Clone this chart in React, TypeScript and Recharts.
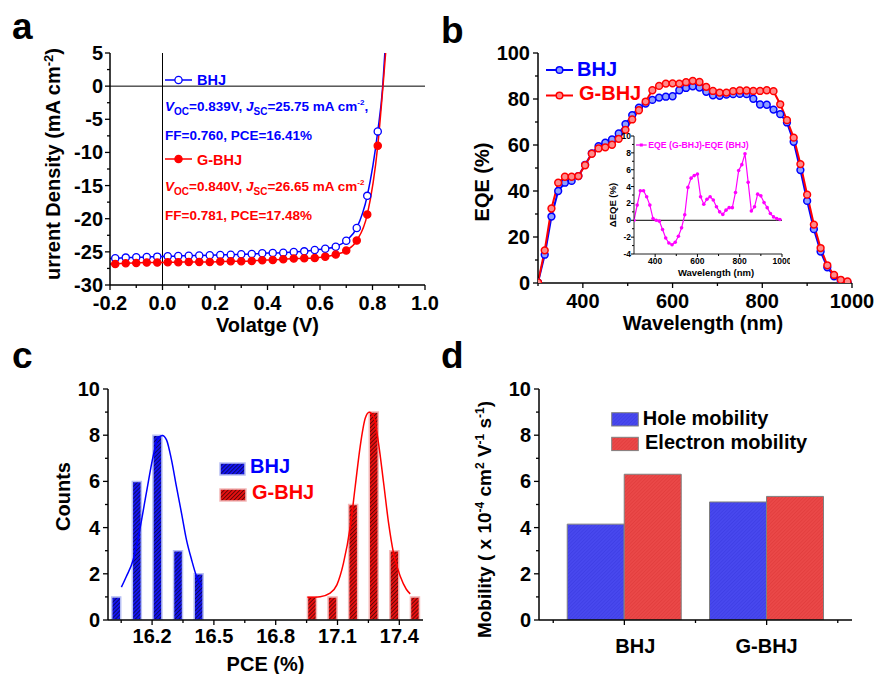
import React from 'react';
import {
  LineChart, Line, XAxis, YAxis, ReferenceLine, Legend, Label,
  ComposedChart, Bar, BarChart, Cell,
} from 'recharts';

const FONT = '"Liberation Sans", Arial, sans-serif';
const BLUE = '#0000ff';
const RED = '#ff0000';
const MAGENTA = '#ff00ff';

// ---- a: J-V curves ----
const jvVolts = [-0.18, -0.14, -0.1, -0.06, -0.02, 0.02, 0.06, 0.1, 0.14, 0.18, 0.22, 0.26, 0.3,
  0.34, 0.38, 0.42, 0.46, 0.5, 0.54, 0.58, 0.62, 0.66, 0.7, 0.74, 0.78, 0.82];
const jvBhj = [-25.97, -25.87, -25.82, -25.77, -25.72, -25.67, -25.62, -25.57, -25.55, -25.52, -25.47,
  -25.42, -25.37, -25.32, -25.22, -25.17, -25.12, -25.02, -24.92, -24.72, -24.52, -24.22, -23.33,
  -21.39, -16.55, -6.83];
const jvGbhj = [-26.82, -26.72, -26.67, -26.62, -26.62, -26.57, -26.57, -26.52, -26.52, -26.52, -26.47,
  -26.42, -26.42, -26.37, -26.27, -26.22, -26.12, -26.02, -25.97, -25.92, -25.72, -25.41, -24.81,
  -23.3, -19.38, -9.0];
// curve ends without markers
const bhjEndV = [-0.2, 0.839, 0.847];
const bhjEndJ = [-26.0, 0, 5];
const gbhjEndV = [-0.2, 0.84, 0.85];
const gbhjEndJ = [-26.85, 0, 5];
const jvXTicks = [-0.2, -0.1, 0, 0.1, 0.2, 0.3, 0.4, 0.5, 0.6, 0.7, 0.8, 0.9, 1.0];
const jvXMajor = [-0.2, 0, 0.2, 0.4, 0.6, 0.8, 1.0];
const jvYTicks = [-30, -27.5, -25, -22.5, -20, -17.5, -15, -12.5, -10, -7.5, -5, -2.5, 0, 2.5, 5];
const jvYMajor = [-30, -25, -20, -15, -10, -5, 0, 5];
const seriesNames = ['BHJ', 'G-BHJ'];
const vocVals = ['0.839', '0.840'];
const jscVals = ['25.75', '26.65'];
const ffVals = ['0.760', '0.781'];
const pceVals = ['16.41', '17.48'];

// ---- b: EQE ----
const wavelengths = [300, 315, 330, 345, 360, 375, 390, 405, 420, 435, 450, 465, 480, 495, 510, 525,
  540, 555, 570, 585, 600, 615, 630, 645, 660, 675, 690, 705, 720, 735, 750, 765, 780, 795, 810, 825,
  840, 855, 870, 885, 900, 915, 930, 945, 960, 975, 990];
const eqeBhj = [0.3, 12.3, 28.9, 40.0, 43.6, 44.4, 46.5, 51.4, 56.4, 59.5, 61.0, 62.4, 65.0, 69.1, 73.0,
  76.2, 78.0, 79.6, 80.6, 81.0, 81.2, 83.8, 84.8, 85.5, 85.0, 83.1, 81.6, 81.4, 81.9, 82.1, 82.2, 82.1,
  80.1, 77.6, 77.5, 75.4, 73.4, 69.8, 61.4, 49.1, 35.7, 23.4, 13.7, 6.8, 2.9, 1.0, 0.3];
const eqeGbhj = [0.3, 14.2, 32.4, 43.6, 46.2, 46.2, 46.5, 51.2, 56.2, 58.5, 59.0, 60.1, 62.7, 66.6, 71.1,
  75.1, 78.9, 83.8, 85.7, 86.7, 86.8, 86.7, 87.3, 87.9, 87.4, 85.3, 83.5, 82.8, 82.8, 83.4, 83.7, 83.7,
  83.5, 83.5, 83.8, 83.4, 77.7, 70.8, 63.2, 51.7, 38.4, 25.4, 15.2, 7.7, 3.5, 1.4, 0.7];
const deltaEqe = [0, 1.8, 3.5, 3.5, 2.8, 1.8, 0.2, 0, -0.1, -1.1, -2.1, -2.7, -2.9, -2.6, -1.9, -0.9,
  0.65, 3.9, 5.0, 5.3, 5.5, 2.8, 1.9, 2.5, 2.8, 2.4, 1.6, 1.0, 0.7, 1.2, 1.5, 1.5, 3.3, 5.9, 6.6, 7.9,
  4.5, 1.1, 1.6, 3.1, 2.9, 2.1, 1.5, 0.8, 0.4, 0.2, 0.1];
const wlTicks = [300, 400, 500, 600, 700, 800, 900, 1000];
const wlMajor = [400, 600, 800, 1000];
const eqeTicks = [0, 10, 20, 30, 40, 50, 60, 70, 80, 90, 100];
const eqeMajor = [0, 20, 40, 60, 80, 100];
const insetXTicks = [400, 500, 600, 700, 800, 900, 1000];
const insetYTicks = [-4, -3, -2, -1, 0, 1, 2, 3, 4, 5, 6, 7, 8, 9, 10];
const insetYMajor = [-4, -2, 0, 2, 4, 6, 8, 10];

// ---- c: PCE histogram ----
const bhjBins = [16.025, 16.125, 16.225, 16.325, 16.425];
const bhjCounts = [1, 6, 8, 3, 2];
const gbhjBins = [16.975, 17.075, 17.175, 17.275, 17.375, 17.475];
const gbhjCounts = [1, 1, 5, 9, 3, 1];
const bhjFitX = [16.051, 16.075, 16.108, 16.14, 16.172, 16.205, 16.229, 16.25, 16.27, 16.294, 16.318,
  16.343, 16.367, 16.392, 16.416, 16.44];
const bhjFitY = [1.42, 1.88, 2.6, 3.9, 5.49, 7.08, 7.87, 7.99, 7.8, 6.94, 5.78, 4.62, 3.47, 2.6, 1.88, 1.44];
const gbhjFitX = [16.954, 17.016, 17.064, 17.097, 17.129, 17.162, 17.186, 17.21, 17.235, 17.254, 17.275,
  17.299, 17.324, 17.348, 17.372, 17.405, 17.434, 17.453];
const gbhjFitY = [0.98, 1.01, 1.16, 1.52, 2.46, 4.04, 5.78, 7.51, 8.74, 8.99, 8.81, 7.66, 5.92, 4.19,
  2.89, 1.88, 1.33, 1.13];
const pceTicks = [16.05, 16.2, 16.35, 16.5, 16.65, 16.8, 16.95, 17.1, 17.25, 17.4];
const pceMajor = [16.2, 16.5, 16.8, 17.1, 17.4];
const countTicks = [0, 1, 2, 3, 4, 5, 6, 7, 8, 9, 10];
const countMajor = [0, 2, 4, 6, 8, 10];

// ---- d: mobility ----
const mobCats = ['BHJ', 'G-BHJ'];
const holeMob = [4.15, 5.11];
const elecMob = [6.31, 5.35];
const mobNames = ['Hole mobility', 'Electron mobility'];
const mobXTicks = [0.5, 1, 1.5, 2, 2.5];
const mobXMajor = [1, 2];

const bhjLine = [
  { v: bhjEndV[0], j: bhjEndJ[0] },
  ...jvVolts.map((v, i) => ({ v, j: jvBhj[i], m: true })),
  ...bhjEndV.slice(1).map((v, i) => ({ v, j: bhjEndJ[i + 1] })),
];
const gbhjLine = [
  { v: gbhjEndV[0], j: gbhjEndJ[0] },
  ...jvVolts.map((v, i) => ({ v, j: jvGbhj[i], m: true })),
  ...gbhjEndV.slice(1).map((v, i) => ({ v, j: gbhjEndJ[i + 1] })),
];
const eqeData = wavelengths.map((w, i) => ({ w, bhj: eqeBhj[i], gbhj: eqeGbhj[i] }));
const insetData = wavelengths.map((w, i) => ({ w, d: deltaEqe[i] }));
const pceData = [
  ...bhjBins.map((x, i) => ({ x, n: bhjCounts[i], g: 0 })),
  ...gbhjBins.map((x, i) => ({ x, n: gbhjCounts[i], g: 1 })),
];
const bhjFit = bhjFitX.map((x, i) => ({ x, n: bhjFitY[i] }));
const gbhjFit = gbhjFitX.map((x, i) => ({ x, n: gbhjFitY[i] }));
const mobData = mobCats.map((c, i) => ({ x: i + 1, hole: holeMob[i], elec: elecMob[i] }));

type Side = 'left' | 'right' | 'top' | 'bottom';
const near = (list: number[], v: number) => list.some((m) => Math.abs(m - v) < 1e-6);

function tickMaker(side: Side, major: number[], o: {
  label?: (v: number) => string; gap?: number; size?: number; len?: number; minor?: number;
  sw?: number; shift?: (v: number) => number;
} = {}) {
  const { label, gap = 8, size = 20, len = 5, minor = 3, sw = 1.3, shift } = o;
  return (props: any) => {
    const { x, y, payload } = props;
    const v = payload.value;
    const big = near(major, v);
    const l = big ? len : minor;
    let line: React.ReactNode;
    let text: React.ReactNode = null;
    if (side === 'left') {
      line = <line x1={x - l} y1={y} x2={x} y2={y} />;
      if (label && big) {
        text = <text x={x - gap} y={y} dy="0.35em" textAnchor="end">{label(v)}</text>;
      }
    } else if (side === 'bottom') {
      line = <line x1={x} y1={y} x2={x} y2={y + l} />;
      if (label && big) {
        text = <text x={x + (shift ? shift(v) : 0)} y={y + gap} textAnchor="middle">{label(v)}</text>;
      }
    } else if (side === 'top') {
      line = <line x1={x} y1={y} x2={x} y2={y + l} />;
    } else {
      line = <line x1={x - l} y1={y} x2={x} y2={y} />;
    }
    return (
      <g>
        <g stroke="#000" strokeWidth={sw}>{line}</g>
        {text && <g fill="#000" fontSize={size} fontWeight="bold" fontFamily={FONT}>{text}</g>}
      </g>
    );
  };
}

const hTitle = (body: React.ReactNode, dx: number, dy: number, size = 20) => (p: any) => {
  const vb = p.viewBox || {};
  return (
    <text x={vb.x + vb.width / 2 + dx} y={vb.y + dy} textAnchor="middle" fontSize={size}
      fontWeight="bold" fontFamily={FONT} fill="#000">{body}</text>
  );
};

const vTitle = (body: React.ReactNode, dx: number, dy: number, size = 20) => (p: any) => {
  const vb = p.viewBox || {};
  const cx = vb.x + dx;
  const cy = vb.y + vb.height / 2 + dy;
  return (
    <text x={cx} y={cy} dy="0.35em" transform={`rotate(-90 ${cx} ${cy})`} textAnchor="middle"
      fontSize={size} fontWeight="bold" fontFamily={FONT} fill="#000">{body}</text>
  );
};

const frame = { stroke: '#000', strokeWidth: 1.5 };

const jvDot = (stroke: string, fill: string) => (p: any) =>
  p.payload && p.payload.m
    ? <circle key={`d${p.index}`} cx={p.cx} cy={p.cy} r={3.6} stroke={stroke} strokeWidth={1.3} fill={fill} />
    : <g key={`d${p.index}`} />;

const Stats = ({ i, y, color }: { i: number; y: number; color: string }) => (
  <g fill={color} fontSize={13.5} fontWeight="bold" fontFamily={FONT}>
    <text x={5} y={y}>
      <tspan fontStyle="italic">V</tspan>
      <tspan fontSize={10} dy={4}>OC</tspan>
      <tspan dy={-4}>{`=${vocVals[i]}V, `}</tspan>
      <tspan fontStyle="italic">J</tspan>
      <tspan fontSize={10} dy={4}>SC</tspan>
      <tspan dy={-4}>{`=${jscVals[i]} mA cm`}</tspan>
      <tspan fontSize={8} dy={-6}>-2</tspan>
      <tspan dy={6}>{i === 0 ? ',' : ''}</tspan>
    </text>
    <text x={5} y={y + 29}>{`FF=${ffVals[i]}, PCE=${pceVals[i]}%`}</text>
  </g>
);

const JvLegend = () => (
  <svg width={230} height={160}>
    <line x1={5} y1={14} x2={32} y2={14} stroke={BLUE} strokeWidth={1.5} />
    <circle cx={18.5} cy={14} r={3.6} stroke={BLUE} strokeWidth={1.3} fill="#fff" />
    <text x={37} y={19} fill={BLUE} fontSize={14.5} fontWeight="bold" fontFamily={FONT}>{seriesNames[0]}</text>
    <Stats i={0} y={45} color={BLUE} />
    <line x1={5} y1={93} x2={32} y2={93} stroke={RED} strokeWidth={1.5} />
    <circle cx={18.5} cy={93} r={3.6} stroke={RED} strokeWidth={1.3} fill={RED} />
    <text x={37} y={99} fill={RED} fontSize={14.5} fontWeight="bold" fontFamily={FONT}>{seriesNames[1]}</text>
    <Stats i={1} y={125} color={RED} />
  </svg>
);

const EqeLegend = () => (
  <svg width={140} height={55}>
    <line x1={6} y1={15} x2={33} y2={15} stroke={BLUE} strokeWidth={2} />
    <circle cx={19.5} cy={15} r={3.3} stroke={BLUE} strokeWidth={1.5} fill="#8fa0ff" />
    <text x={37} y={21} fill={BLUE} fontSize={20} fontWeight="bold" fontFamily={FONT}>{seriesNames[0]}</text>
    <line x1={6} y1={40.5} x2={33} y2={40.5} stroke={RED} strokeWidth={2} />
    <circle cx={19.5} cy={40.5} r={3.3} stroke={RED} strokeWidth={1.5} fill="#ff8a8a" />
    <text x={39} y={45} fill={RED} fontSize={20} fontWeight="bold" fontFamily={FONT}>{seriesNames[1]}</text>
  </svg>
);

const InsetLegend = () => (
  <svg width={140} height={14}>
    <line x1={2} y1={7} x2={12.7} y2={7} stroke={MAGENTA} strokeWidth={1.2} />
    <rect x={5.8} y={5.5} width={3} height={3} fill={MAGENTA} />
    <text x={14.3} y={10} fill={MAGENTA} fontSize={8.7} fontWeight="bold" fontFamily={FONT}>
      EQE (G-BHJ)-EQE (BHJ)
    </text>
  </svg>
);

const PceLegend = () => (
  <svg width={130} height={50}>
    <rect x={5} y={8} width={25} height={12} fill="url(#hatchBlue)" stroke="#b8c0f4" strokeWidth={1.5} />
    <text x={35} y={18} fill={BLUE} fontSize={20} fontWeight="bold" fontFamily={FONT}>{seriesNames[0]}</text>
    <rect x={5} y={34} width={26} height={12} fill="url(#hatchRed)" stroke="#f4b8b8" strokeWidth={1.5} />
    <text x={37} y={44} fill={RED} fontSize={20} fontWeight="bold" fontFamily={FONT}>{seriesNames[1]}</text>
  </svg>
);

const MobLegend = () => (
  <svg width={215} height={50}>
    <rect x={6.7} y={7.7} width={26.6} height={13.3} fill="url(#dBlue)" stroke="#808080" strokeWidth={1} />
    <text x={37.7} y={20} fill="#000" fontSize={20} fontWeight="bold" fontFamily={FONT}>{mobNames[0]}</text>
    <rect x={6.7} y={32.3} width={26.6} height={13.3} fill="url(#dRed)" stroke="#808080" strokeWidth={1} />
    <text x={40} y={44} fill="#000" fontSize={20} fontWeight="bold" fontFamily={FONT}>{mobNames[1]}</text>
  </svg>
);

const legendAt = (left: number, top: number, w: number, h: number) => ({
  left, top, width: w, height: h, margin: 0, padding: 0,
});

const Letter = ({ x, y, c }: { x: number; y: number; c: string }) => (
  <text x={x} y={y} fontSize={37} fontWeight="bold" fontFamily={FONT} fill="#000">{c}</text>
);

const box = (left: number, top: number): React.CSSProperties => ({ position: 'absolute', left, top });

export default function App() {
  return (
    <div style={{ position: 'absolute', left: 0, top: 0, width: 875, height: 674, background: '#fff', overflow: 'hidden' }}>
      <svg width={875} height={674} style={{ position: 'absolute', left: 0, top: 0 }}>
        <defs>
          <pattern id="hatchBlue" width="2.8" height="2.8" patternUnits="userSpaceOnUse" patternTransform="rotate(45)">
            <rect width="2.8" height="2.8" fill="#1414ee" />
            <line x1="0" y1="0" x2="0" y2="2.8" stroke="#000" strokeWidth="1.1" />
          </pattern>
          <pattern id="hatchRed" width="2.8" height="2.8" patternUnits="userSpaceOnUse" patternTransform="rotate(45)">
            <rect width="2.8" height="2.8" fill="#e81010" />
            <line x1="0" y1="0" x2="0" y2="2.8" stroke="#000" strokeWidth="1.1" />
          </pattern>
          <pattern id="dBlue" width="2.5" height="2.5" patternUnits="userSpaceOnUse" patternTransform="rotate(45)">
            <rect width="2.5" height="2.5" fill="#4848ee" />
            <line x1="0" y1="0" x2="0" y2="2.5" stroke="#2e2ed6" strokeWidth="0.6" />
          </pattern>
          <pattern id="dRed" width="2.5" height="2.5" patternUnits="userSpaceOnUse" patternTransform="rotate(45)">
            <rect width="2.5" height="2.5" fill="#ea4848" />
            <line x1="0" y1="0" x2="0" y2="2.5" stroke="#d22c2c" strokeWidth="0.6" />
          </pattern>
        </defs>
        <Letter x={12} y={39} c="a" />
        <Letter x={441} y={43} c="b" />
        <Letter x={12} y={368} c="c" />
        <Letter x={441} y={368} c="d" />
      </svg>

      {/* a */}
      <div style={box(0, 0)}>
        <LineChart width={440} height={345} margin={{ top: 53, right: 15, bottom: 5, left: 50 }}>
          <XAxis type="number" dataKey="v" domain={[-0.2, 1.0]} ticks={jvXTicks} interval={0} allowDataOverflow
            height={55} tickSize={0} tickMargin={0} tickLine={false} axisLine={frame}
            tick={tickMaker('bottom', jvXMajor, { label: (v) => v.toFixed(1), gap: 25 })}>
            <Label content={hTitle('Volatge (V)', 0, 47)} />
          </XAxis>
          <XAxis xAxisId="top" orientation="top" type="number" domain={[-0.2, 1.0]} ticks={jvXTicks} interval={0}
            allowDataOverflow height={0} tickSize={0} tickLine={false} axisLine={frame}
            tick={tickMaker('top', jvXMajor)} />
          <YAxis type="number" domain={[-30, 5]} ticks={jvYTicks} interval={0} allowDataOverflow width={60}
            tickSize={0} tickMargin={0} tickLine={false} axisLine={frame}
            tick={tickMaker('left', jvYMajor, { label: (v) => String(v), gap: 7 })}>
            <Label content={vTitle(<>urrent Density (mA cm<tspan fontSize={13} dy={-7}>-2</tspan><tspan dy={7}>)</tspan></>, 3, -5)} />
          </YAxis>
          <YAxis yAxisId="right" orientation="right" type="number" domain={[-30, 5]} ticks={jvYTicks} interval={0}
            allowDataOverflow width={0} tickSize={0} tickLine={false} axisLine={frame}
            tick={tickMaker('right', jvYMajor)} />
          <ReferenceLine x={0} stroke="#000" strokeWidth={1} />
          <ReferenceLine y={0} stroke="#000" strokeWidth={1} />
          <Line data={bhjLine} dataKey="j" type="monotone" stroke={BLUE} strokeWidth={1.5}
            dot={jvDot(BLUE, '#fff')} isAnimationActive={false} />
          <Line data={gbhjLine} dataKey="j" type="monotone" stroke={RED} strokeWidth={1.5}
            dot={jvDot(RED, RED)} isAnimationActive={false} />
          <Legend verticalAlign="middle" align="center" layout="horizontal" content={() => <JvLegend />}
            wrapperStyle={legendAt(160, 66, 230, 160)} />
        </LineChart>
      </div>

      {/* b */}
      <div style={box(440, 0)}>
        <LineChart width={435} height={345} data={eqeData} margin={{ top: 53, right: 23, bottom: 7, left: 38 }}>
          <XAxis type="number" dataKey="w" domain={[300, 1000]} ticks={wlTicks} interval={0} allowDataOverflow
            height={55} tickSize={0} tickMargin={0} tickLine={false} axisLine={frame}
            tick={tickMaker('bottom', wlMajor, { label: (v) => String(v), gap: 25 })}>
            <Label content={hTitle('Wavelength (nm)', 8, 47)} />
          </XAxis>
          <XAxis xAxisId="top" orientation="top" type="number" domain={[300, 1000]} ticks={wlTicks} interval={0}
            allowDataOverflow height={0} tickSize={0} tickLine={false} axisLine={frame}
            tick={tickMaker('top', wlMajor)} />
          <YAxis type="number" domain={[0, 100]} ticks={eqeTicks} interval={0} allowDataOverflow width={60}
            tickSize={0} tickMargin={0} tickLine={false} axisLine={frame}
            tick={tickMaker('left', eqeMajor, { label: (v) => String(v), gap: 8 })}>
            <Label content={vTitle('EQE (%)', 4, 14)} />
          </YAxis>
          <YAxis yAxisId="right" orientation="right" type="number" domain={[0, 100]} ticks={eqeTicks} interval={0}
            allowDataOverflow width={0} tickSize={0} tickLine={false} axisLine={frame}
            tick={tickMaker('right', eqeMajor)} />
          <Line dataKey="bhj" type="linear" stroke={BLUE} strokeWidth={2}
            dot={{ r: 3.4, stroke: BLUE, strokeWidth: 1.5, fill: '#8fa0ff' }} isAnimationActive={false} />
          <Line dataKey="gbhj" type="linear" stroke={RED} strokeWidth={2}
            dot={{ r: 3.4, stroke: RED, strokeWidth: 1.5, fill: '#ff8a8a' }} isAnimationActive={false} />
          <Legend verticalAlign="middle" align="center" layout="horizontal" content={() => <EqeLegend />}
            wrapperStyle={legendAt(100, 55, 140, 55)} />
        </LineChart>
      </div>

      {/* b inset */}
      <div style={box(590, 125)}>
        <LineChart width={200} height={160} data={insetData} margin={{ top: 11, right: 8, bottom: 1, left: 20 }}>
          <XAxis type="number" dataKey="w" domain={[300, 1000]} ticks={insetXTicks} interval={0} allowDataOverflow
            height={30} tickSize={0} tickMargin={0} tickLine={false} axisLine={{ stroke: '#222', strokeWidth: 1 }}
            tick={tickMaker('bottom', wlMajor, { label: (v) => String(v), gap: 10, size: 8.5, len: 3, minor: 2, sw: 1 })}>
            <Label content={hTitle('Wavelength (nm)', 8, 22, 9.5)} />
          </XAxis>
          <XAxis xAxisId="top" orientation="top" type="number" domain={[300, 1000]} ticks={insetXTicks} interval={0}
            allowDataOverflow height={0} tickSize={0} tickLine={false} axisLine={{ stroke: '#222', strokeWidth: 1 }}
            tick={tickMaker('top', wlMajor, { len: 3, minor: 2, sw: 1 })} />
          <YAxis type="number" domain={[-4, 10]} ticks={insetYTicks} interval={0} allowDataOverflow width={24}
            tickSize={0} tickMargin={0} tickLine={false} axisLine={{ stroke: '#222', strokeWidth: 1 }}
            tick={tickMaker('left', insetYMajor, { label: (v) => String(v), gap: 3, size: 8.5, len: 3, minor: 2, sw: 1 })}>
            <Label content={vTitle('ΔEQE (%)', 2.5, 10, 9.5)} />
          </YAxis>
          <YAxis yAxisId="right" orientation="right" type="number" domain={[-4, 10]} ticks={insetYTicks} interval={0}
            allowDataOverflow width={0} tickSize={0} tickLine={false} axisLine={{ stroke: '#222', strokeWidth: 1 }}
            tick={tickMaker('right', insetYMajor, { len: 3, minor: 2, sw: 1 })} />
          <ReferenceLine y={0} stroke="#000" strokeWidth={1} />
          <Line dataKey="d" type="linear" stroke={MAGENTA} strokeWidth={1.2}
            dot={{ r: 1.8, stroke: 'none', fill: MAGENTA }} isAnimationActive={false} />
          <Legend verticalAlign="middle" align="center" layout="horizontal" content={() => <InsetLegend />}
            wrapperStyle={legendAt(44, 13, 140, 14)} />
        </LineChart>
      </div>

      {/* c */}
      <div style={box(0, 330)}>
        <ComposedChart width={440} height={344} data={pceData} margin={{ top: 59, right: 17, bottom: 4, left: 48 }}>
          <XAxis type="number" dataKey="x" domain={[15.986, 17.515]} ticks={pceTicks} interval={0} allowDataOverflow
            height={50} tickSize={0} tickMargin={0} tickLine={false} axisLine={frame}
            tick={tickMaker('bottom', pceMajor, { label: (v) => v.toFixed(1), gap: 23 })}>
            <Label content={hTitle('PCE (%)', 0, 51)} />
          </XAxis>
          {/* fit curves sit on the (same-domain) top axis so they don't narrow the bar band */}
          <XAxis xAxisId="top" orientation="top" type="number" dataKey="x" domain={[15.986, 17.515]} ticks={pceTicks}
            interval={0} allowDataOverflow height={0} tickSize={0} tickLine={false} axisLine={frame}
            tick={tickMaker('top', pceMajor)} />
          <YAxis type="number" domain={[0, 10]} ticks={countTicks} interval={0} allowDataOverflow width={60}
            tickSize={0} tickMargin={0} tickLine={false} axisLine={frame}
            tick={tickMaker('left', countMajor, { label: (v) => String(v), gap: 8 })}>
            <Label content={vTitle('Counts', 15, -8)} />
          </YAxis>
          <YAxis yAxisId="right" orientation="right" type="number" domain={[0, 10]} ticks={countTicks} interval={0}
            allowDataOverflow width={0} tickSize={0} tickLine={false} axisLine={frame}
            tick={tickMaker('right', countMajor)} />
          <Bar dataKey="n" barSize={9} isAnimationActive={false}>
            {pceData.map((d, i) => (
              <Cell key={i} fill={d.g === 0 ? 'url(#hatchBlue)' : 'url(#hatchRed)'}
                stroke={d.g === 0 ? '#b8c0f4' : '#f4b8b8'} strokeWidth={1.5} />
            ))}
          </Bar>
          <Line xAxisId="top" data={bhjFit} dataKey="n" type="monotone" stroke={BLUE} strokeWidth={1.5} dot={false}
            isAnimationActive={false} />
          <Line xAxisId="top" data={gbhjFit} dataKey="n" type="monotone" stroke={RED} strokeWidth={1.5} dot={false}
            isAnimationActive={false} />
          <Legend verticalAlign="middle" align="center" layout="horizontal" content={() => <PceLegend />}
            wrapperStyle={legendAt(215, 125, 130, 50)} />
        </ComposedChart>
      </div>

      {/* d */}
      <div style={box(440, 330)}>
        <BarChart width={435} height={344} data={mobData} barGap={0} margin={{ top: 59, right: 23, bottom: 4, left: 39 }}>
          <XAxis type="number" dataKey="x" domain={[0.4, 2.6]} ticks={mobXTicks} interval={0} allowDataOverflow
            height={50} tickSize={0} tickMargin={0} tickLine={false} axisLine={frame}
            tick={tickMaker('bottom', mobXMajor, {
              label: (v) => mobCats[Math.round(v) - 1], gap: 33, shift: (v) => (v === 1 ? 11 : 0),
            })} />
          <XAxis xAxisId="top" orientation="top" type="number" domain={[0.4, 2.6]} ticks={mobXTicks} interval={0}
            allowDataOverflow height={0} tickSize={0} tickLine={false} axisLine={frame}
            tick={tickMaker('top', mobXMajor)} />
          <YAxis type="number" domain={[0, 10]} ticks={countTicks} interval={0} allowDataOverflow width={60}
            tickSize={0} tickMargin={0} tickLine={false} axisLine={frame}
            tick={tickMaker('left', countMajor, { label: (v) => String(v), gap: 8 })}>
            <Label content={vTitle(
              <>Mobility ( x 10<tspan fontSize={12} dy={-7}>-4</tspan><tspan dy={7}> cm</tspan>
                <tspan fontSize={12} dy={-7}>2</tspan><tspan dy={7}> V</tspan>
                <tspan fontSize={12} dy={-7}>-1</tspan><tspan dy={7}> s</tspan>
                <tspan fontSize={12} dy={-7}>-1</tspan><tspan dy={7}>)</tspan></>, 5, 15, 19)} />
          </YAxis>
          <YAxis yAxisId="right" orientation="right" type="number" domain={[0, 10]} ticks={countTicks} interval={0}
            allowDataOverflow width={0} tickSize={0} tickLine={false} axisLine={frame}
            tick={tickMaker('right', countMajor)} />
          <Bar dataKey="hole" barSize={57} fill="url(#dBlue)" stroke="#808080" strokeWidth={1} isAnimationActive={false} />
          <Bar dataKey="elec" barSize={57} fill="url(#dRed)" stroke="#808080" strokeWidth={1} isAnimationActive={false} />
          <Legend verticalAlign="middle" align="center" layout="horizontal" content={() => <MobLegend />}
            wrapperStyle={legendAt(165, 75, 215, 50)} />
        </BarChart>
      </div>
    </div>
  );
}
